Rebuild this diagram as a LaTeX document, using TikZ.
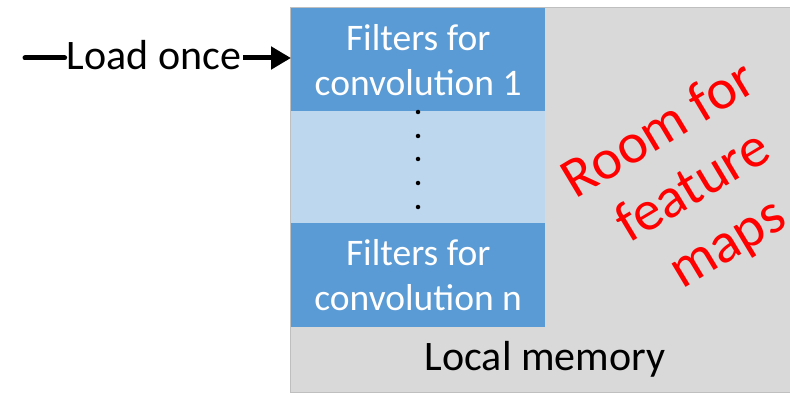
\documentclass[tikz,border=0pt]{standalone}
\usepackage{fontspec}
\setmainfont{Carlito}
\usetikzlibrary{arrows.meta}
\definecolor{memgray}{HTML}{D9D9D9}
\definecolor{memedge}{HTML}{BFBFBF}
\definecolor{filterblue}{HTML}{5B9BD5}
\definecolor{paleblue}{HTML}{BDD7EE}
\definecolor{roomred}{HTML}{FF0000}
\tikzset{
  membox/.style={fill=memgray, draw=memedge, line width=1.2pt, anchor=north west, inner sep=0pt},
  filterbox/.style={fill=filterblue, draw=none, anchor=north west, inner sep=0pt,
    minimum width=254pt, text=white, align=center, font=\fontsize{37.5}{45}\selectfont},
  gapbox/.style={fill=paleblue, draw=none, anchor=north west, inner sep=0pt, minimum width=254pt},
  vdot/.style={circle, fill=black, inner sep=0pt, minimum size=4.5pt},
  bigline/.style={line width=5pt},
}
\begin{document}
\begin{tikzpicture}[x=1pt,y=-1pt]
\useasboundingbox (0,0) rectangle (790,393);
% local memory block
\node[membox, minimum width=510pt, minimum height=385pt] (mem) at (290,7) {};
% filter banks
\node[filterbox, minimum height=103pt] (f1) at (291,8) {Filters for\\convolution 1};
\node[gapbox, minimum height=112pt] (gap) at (291,111) {};
\node[filterbox, minimum height=104pt] (fn) at (291,223) {Filters for\\convolution n};
% vertical ellipsis
\foreach \y [count=\i] in {112,136,159,183,207}
  \node[vdot] (d\i) at (418,\y) {};
% labels
\node[font=\fontsize{42}{50}\selectfont, anchor=base] (mlabel) at (545,370) {Local memory};
\node[font=\fontsize{42}{50}\selectfont, anchor=base, inner sep=2pt] (load) at (154,70) {Load once};
\node[text=roomred, rotate=31, align=center, font=\fontsize{57}{66}\selectfont] (room) at (694,188) {Room for\\feature\\maps};
% load arrow
\coordinate (tail) at (25,58);
\draw[bigline, line cap=round] (tail) -- (load.west |- tail);
\draw[bigline, -{Triangle[length=20pt,width=22pt]}] (load.east |- tail) -- (f1.west |- tail);
\end{tikzpicture}
\end{document}
